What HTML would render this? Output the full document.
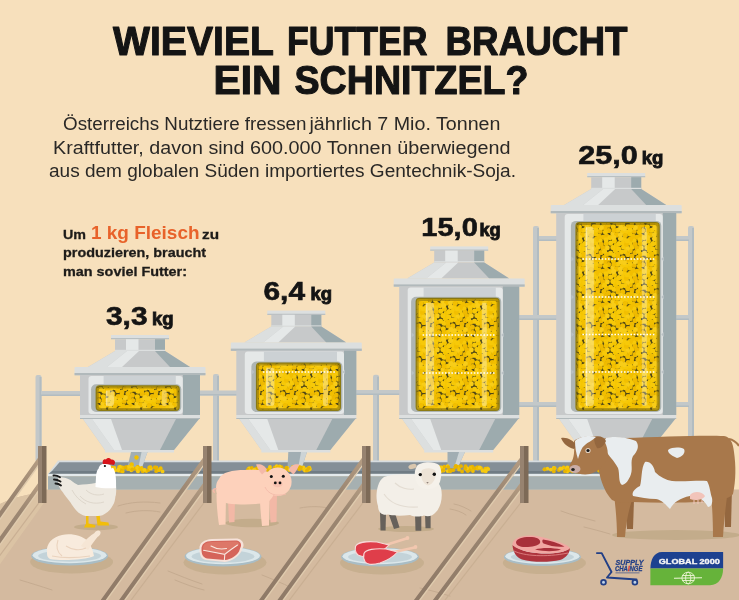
<!DOCTYPE html>
<html><head><meta charset="utf-8"><title>Wieviel Futter braucht ein Schnitzel?</title>
<style>html,body{margin:0;padding:0;background:#F7E0BC}#root{position:relative;width:739px;height:600px;overflow:hidden;background:#F7E0BC}</style>
</head><body><div id="root"><svg width="739" height="600" viewBox="0 0 739 600" style="position:absolute;left:0;top:0"><defs><pattern id="feed" width="34" height="34" patternUnits="userSpaceOnUse"><rect width="34" height="34" fill="#4F4716"/><circle cx="11.0" cy="5.1" r="2.55" fill="#F7C908"/><circle cx="22.1" cy="2.5" r="2.55" fill="#F7C908"/><circle cx="22.1" cy="36.5" r="2.55" fill="#F7C908"/><circle cx="18.2" cy="12.4" r="2.55" fill="#F2BF00"/><circle cx="2.0" cy="17.3" r="2.55" fill="#F7C908"/><circle cx="36.0" cy="17.3" r="2.55" fill="#F7C908"/><circle cx="2.4" cy="3.1" r="2.55" fill="#F5C600"/><circle cx="36.4" cy="3.1" r="2.55" fill="#F5C600"/><circle cx="14.4" cy="28.1" r="2.55" fill="#F7C908"/><circle cx="4.2" cy="7.6" r="2.55" fill="#F5C600"/><circle cx="21.3" cy="-1.8" r="2.55" fill="#F2BF00"/><circle cx="21.3" cy="32.2" r="2.55" fill="#F2BF00"/><circle cx="29.2" cy="9.8" r="2.55" fill="#F8CD18"/><circle cx="10.5" cy="27.7" r="2.55" fill="#F7C908"/><circle cx="6.1" cy="19.8" r="2.55" fill="#EFBA00"/><circle cx="23.1" cy="14.5" r="2.55" fill="#EFBA00"/><circle cx="10.7" cy="19.9" r="2.55" fill="#F2BF00"/><circle cx="15.4" cy="10.2" r="2.55" fill="#F8CD18"/><circle cx="27.0" cy="23.8" r="2.55" fill="#EFBA00"/><circle cx="17.9" cy="29.8" r="2.55" fill="#F5C600"/><circle cx="24.8" cy="9.8" r="2.55" fill="#EFBA00"/><circle cx="1.3" cy="22.7" r="2.55" fill="#F5C600"/><circle cx="35.3" cy="22.7" r="2.55" fill="#F5C600"/><circle cx="26.0" cy="19.5" r="2.55" fill="#F2BF00"/><circle cx="28.6" cy="-1.9" r="2.55" fill="#EFBA00"/><circle cx="28.6" cy="32.1" r="2.55" fill="#EFBA00"/><circle cx="16.1" cy="22.6" r="2.55" fill="#EFBA00"/><circle cx="9.5" cy="14.1" r="2.55" fill="#F7C908"/><circle cx="-1.4" cy="5.1" r="2.55" fill="#F7C908"/><circle cx="32.6" cy="5.1" r="2.55" fill="#F7C908"/><circle cx="20.0" cy="8.9" r="2.55" fill="#F7C908"/><circle cx="30.6" cy="26.5" r="2.55" fill="#EFBA00"/><circle cx="13.3" cy="13.6" r="2.55" fill="#F7C908"/><circle cx="7.1" cy="5.5" r="2.55" fill="#F7C908"/><circle cx="3.4" cy="12.4" r="2.55" fill="#F5C600"/><circle cx="0.9" cy="29.7" r="2.55" fill="#F8CD18"/><circle cx="34.9" cy="29.7" r="2.55" fill="#F8CD18"/><circle cx="15.8" cy="16.5" r="2.55" fill="#F2BF00"/><circle cx="11.6" cy="9.0" r="2.55" fill="#F7C908"/><circle cx="28.2" cy="5.5" r="2.55" fill="#F2BF00"/><circle cx="18.0" cy="5.0" r="2.55" fill="#F7C908"/><circle cx="18.5" cy="0.9" r="2.55" fill="#F2BF00"/><circle cx="18.5" cy="34.9" r="2.55" fill="#F2BF00"/><circle cx="5.7" cy="26.2" r="2.55" fill="#F7C908"/><circle cx="12.1" cy="1.0" r="2.55" fill="#F7C908"/><circle cx="12.1" cy="35.0" r="2.55" fill="#F7C908"/><circle cx="0.9" cy="9.5" r="2.55" fill="#F7C908"/><circle cx="34.9" cy="9.5" r="2.55" fill="#F7C908"/><circle cx="8.8" cy="23.5" r="2.55" fill="#F8CD18"/><circle cx="-1.5" cy="15.2" r="2.55" fill="#F7C908"/><circle cx="32.5" cy="15.2" r="2.55" fill="#F7C908"/><circle cx="-2.1" cy="-0.4" r="2.55" fill="#F7C908"/><circle cx="-2.1" cy="33.6" r="2.55" fill="#F7C908"/><circle cx="31.9" cy="-0.4" r="2.55" fill="#F7C908"/><circle cx="31.9" cy="33.6" r="2.55" fill="#F7C908"/><circle cx="28.6" cy="16.3" r="2.55" fill="#F2BF00"/><circle cx="22.2" cy="27.2" r="2.55" fill="#EFBA00"/><circle cx="4.5" cy="30.9" r="2.55" fill="#F2BF00"/><circle cx="5.9" cy="16.1" r="2.55" fill="#F2BF00"/><circle cx="6.7" cy="10.8" r="2.55" fill="#F7C908"/><circle cx="8.5" cy="0.5" r="2.55" fill="#F8CD18"/><circle cx="8.5" cy="34.5" r="2.55" fill="#F8CD18"/><circle cx="19.9" cy="18.0" r="2.55" fill="#EFBA00"/><circle cx="30.3" cy="21.3" r="2.55" fill="#EFBA00"/><circle cx="27.4" cy="28.1" r="2.55" fill="#F5C600"/><circle cx="23.2" cy="23.6" r="2.55" fill="#F8CD18"/><circle cx="25.2" cy="-0.8" r="2.55" fill="#F2BF00"/><circle cx="25.2" cy="33.2" r="2.55" fill="#F2BF00"/><circle cx="13.3" cy="-2.5" r="2.55" fill="#F2BF00"/><circle cx="13.3" cy="31.5" r="2.55" fill="#F2BF00"/><circle cx="23.1" cy="6.3" r="2.55" fill="#EFBA00"/><circle cx="8.4" cy="30.7" r="2.55" fill="#F8CD18"/><circle cx="18.1" cy="25.7" r="2.55" fill="#F7C908"/><circle cx="26.5" cy="13.2" r="2.55" fill="#F7C908"/><circle cx="14.5" cy="6.3" r="2.55" fill="#F2BF00"/><circle cx="12.4" cy="24.6" r="2.55" fill="#F8CD18"/><circle cx="19.6" cy="21.7" r="2.55" fill="#F2BF00"/><circle cx="1.7" cy="-0.4" r="2.55" fill="#F8CD18"/><circle cx="1.7" cy="33.6" r="2.55" fill="#F8CD18"/><circle cx="35.7" cy="-0.4" r="2.55" fill="#F8CD18"/><circle cx="35.7" cy="33.6" r="2.55" fill="#F8CD18"/><circle cx="28.1" cy="1.8" r="2.55" fill="#F7C908"/><circle cx="28.1" cy="35.8" r="2.55" fill="#F7C908"/><circle cx="2.0" cy="26.2" r="2.55" fill="#F2BF00"/><circle cx="36.0" cy="26.2" r="2.55" fill="#F2BF00"/><circle cx="15.2" cy="2.7" r="2.55" fill="#F7C908"/><circle cx="15.2" cy="36.7" r="2.55" fill="#F7C908"/></pattern></defs><rect width="739" height="600" fill="#F7E0BC"/><rect x="35.5" y="375" width="6" height="87" rx="2" fill="#C3C8C9"/><rect x="39.5" y="377" width="2" height="85" fill="#B2BCC1"/><rect x="41" y="391" width="40" height="5" fill="#C3C8C9"/><rect x="41" y="394.5" width="40" height="1.5" fill="#B2BCC1"/><rect x="213" y="374" width="6" height="88" rx="2" fill="#C3C8C9"/><rect x="217" y="376" width="2" height="86" fill="#B2BCC1"/><rect x="200" y="390.5" width="37" height="5" fill="#C3C8C9"/><rect x="200" y="394.0" width="37" height="1.5" fill="#B2BCC1"/><rect x="373" y="374.7" width="6" height="87.30000000000001" rx="2" fill="#C3C8C9"/><rect x="377" y="376.7" width="2" height="85.30000000000001" fill="#B2BCC1"/><rect x="356" y="390" width="45" height="5" fill="#C3C8C9"/><rect x="356" y="393.5" width="45" height="1.5" fill="#B2BCC1"/><rect x="533" y="226" width="6" height="236" rx="2" fill="#C3C8C9"/><rect x="537" y="228" width="2" height="234" fill="#B2BCC1"/><rect x="539" y="236" width="20" height="5" fill="#C3C8C9"/><rect x="539" y="239.5" width="20" height="1.5" fill="#B2BCC1"/><rect x="519" y="315" width="40" height="5" fill="#C3C8C9"/><rect x="519" y="318.5" width="40" height="1.5" fill="#B2BCC1"/><rect x="519" y="402" width="40" height="5" fill="#C3C8C9"/><rect x="519" y="405.5" width="40" height="1.5" fill="#B2BCC1"/><rect x="688" y="226" width="6" height="236" rx="2" fill="#C3C8C9"/><rect x="692" y="228" width="2" height="234" fill="#B2BCC1"/><rect x="675" y="236" width="14" height="5" fill="#C3C8C9"/><rect x="675" y="239.5" width="14" height="1.5" fill="#B2BCC1"/><rect x="675" y="315" width="14" height="5" fill="#C3C8C9"/><rect x="675" y="318.5" width="14" height="1.5" fill="#B2BCC1"/><rect x="675" y="402" width="14" height="5" fill="#C3C8C9"/><rect x="675" y="405.5" width="14" height="1.5" fill="#B2BCC1"/><rect x="111" y="335" width="58" height="4.2" fill="#DCDFDF"/><rect x="111" y="338.2" width="58" height="1" fill="#B1B9BB"/><rect x="115" y="339.2" width="50" height="11.800000000000011" fill="#C7C9CA"/><rect x="126" y="339.2" width="12.5" height="11.800000000000011" fill="#E5E8E8"/><rect x="155" y="339.2" width="10" height="11.800000000000011" fill="#9DABAE"/><rect x="115" y="349.8" width="50" height="1.2" fill="#DCDFDF"/><polygon points="115,351 165,351 190,367 88,367" fill="#C7C9CA"/><polygon points="115,351 127,351 107,367 88,367" fill="#DCDFDF"/><polygon points="127,351 139,351 122,367 107,367" fill="#E5E8E8"/><polygon points="155,351 165,351 190,367 170,367" fill="#9DABAE"/><rect x="74.5" y="367" width="131" height="8.3" rx="1" fill="#DCDFDF"/><rect x="74.5" y="373" width="131" height="2.3" fill="#B1B9BB"/><rect x="80" y="375" width="120" height="40" fill="#C7C9CA"/><rect x="182.8" y="375" width="17.19999999999999" height="40" fill="#9DABAE"/><rect x="88.5" y="376" width="94.30000000000001" height="38" rx="3" fill="#E5E8E8"/><rect x="103.6" y="376" width="72.20000000000002" height="8.300000000000011" fill="#CCD1D4"/><rect x="91.1" y="384.3" width="90.20000000000002" height="27.69999999999999" rx="5" fill="#AEB5B3"/><rect x="95.6" y="385.3" width="84.20000000000002" height="25.69999999999999" rx="4" fill="#8E7C12"/><rect x="96.8" y="386.5" width="81.80000000000001" height="23.29999999999999" rx="3" fill="url(#feed)"/><rect x="97.6" y="387.3" width="80.20000000000002" height="21.69999999999999" rx="3" fill="none" stroke="#6A5A0E" stroke-width="2.2" opacity="0.45"/><rect x="105.6" y="390.3" width="8.5" height="15.699999999999989" rx="3" fill="#FFFFFF" opacity="0.33"/><rect x="106.1" y="390.3" width="1.2" height="15.699999999999989" fill="#FFFFFF" opacity="0.35"/><rect x="161.8" y="390.3" width="5" height="15.699999999999989" rx="2" fill="#FFFFFF" opacity="0.3"/><rect x="80" y="415" width="120" height="4" fill="#DCDFDF"/><rect x="80" y="418" width="120" height="1" fill="#B1B9BB"/><polygon points="83,419 199,419 174,450 105,450" fill="#C7C9CA"/><polygon points="83,419 92,419 114,450 105,450" fill="#DCDFDF"/><polygon points="92,419 111,419 122,450 114,450" fill="#E5E8E8"/><polygon points="176,419 199,419 174,450 160,450" fill="#9DABAE"/><rect x="105" y="450" width="69" height="2.5" fill="#DCDFDF"/><rect x="267.3" y="310.6" width="58" height="4.2" fill="#DCDFDF"/><rect x="267.3" y="313.8" width="58" height="1" fill="#B1B9BB"/><rect x="271.3" y="314.8" width="50" height="11.800000000000011" fill="#C7C9CA"/><rect x="282.3" y="314.8" width="12.5" height="11.800000000000011" fill="#E5E8E8"/><rect x="311.3" y="314.8" width="10" height="11.800000000000011" fill="#9DABAE"/><rect x="271.3" y="325.40000000000003" width="50" height="1.2" fill="#DCDFDF"/><polygon points="271.3,326.6 321.3,326.6 346.3,342.6 244.3,342.6" fill="#C7C9CA"/><polygon points="271.3,326.6 283.3,326.6 263.3,342.6 244.3,342.6" fill="#DCDFDF"/><polygon points="283.3,326.6 295.3,326.6 278.3,342.6 263.3,342.6" fill="#E5E8E8"/><polygon points="311.3,326.6 321.3,326.6 346.3,342.6 326.3,342.6" fill="#9DABAE"/><rect x="230.8" y="342.6" width="131" height="8.3" rx="1" fill="#DCDFDF"/><rect x="230.8" y="348.6" width="131" height="2.3" fill="#B1B9BB"/><rect x="236.3" y="350.6" width="120" height="64.39999999999998" fill="#C7C9CA"/><rect x="344" y="350.6" width="12.300000000000011" height="64.39999999999998" fill="#9DABAE"/><rect x="244.8" y="351.6" width="99.19999999999999" height="62.39999999999998" rx="3" fill="#E5E8E8"/><rect x="263.9" y="351.6" width="73.1" height="9.899999999999977" fill="#CCD1D4"/><rect x="251.4" y="361.5" width="91.1" height="50.5" rx="5" fill="#AEB5B3"/><rect x="255.9" y="362.5" width="85.1" height="48.5" rx="4" fill="#8E7C12"/><rect x="257.1" y="363.7" width="82.69999999999999" height="46.1" rx="3" fill="url(#feed)"/><rect x="257.9" y="364.5" width="81.1" height="44.5" rx="3" fill="none" stroke="#6A5A0E" stroke-width="2.2" opacity="0.45"/><rect x="265.9" y="367.5" width="8.5" height="38.5" rx="3" fill="#FFFFFF" opacity="0.33"/><rect x="266.4" y="367.5" width="1.2" height="38.5" fill="#FFFFFF" opacity="0.35"/><rect x="323" y="367.5" width="5" height="38.5" rx="2" fill="#FFFFFF" opacity="0.3"/><line x1="262.9" y1="372" x2="336" y2="372" stroke="#FFFFFF" stroke-width="1.4" stroke-dasharray="1.6 1.6"/><polygon points="251.9,369.5 254.4,372 251.9,374.5" fill="#B9C1C5"/><polygon points="345,369.5 342.5,372 345,374.5" fill="#B9C1C5"/><rect x="236.3" y="415" width="120" height="4" fill="#DCDFDF"/><rect x="236.3" y="418" width="120" height="1" fill="#B1B9BB"/><polygon points="239.3,419 355.3,419 330.3,450 261.3,450" fill="#C7C9CA"/><polygon points="239.3,419 248.3,419 270.3,450 261.3,450" fill="#DCDFDF"/><polygon points="248.3,419 267.3,419 278.3,450 270.3,450" fill="#E5E8E8"/><polygon points="332.3,419 355.3,419 330.3,450 316.3,450" fill="#9DABAE"/><rect x="261.3" y="450" width="69" height="2.5" fill="#DCDFDF"/><rect x="430.2" y="246.39999999999998" width="58" height="4.2" fill="#DCDFDF"/><rect x="430.2" y="249.59999999999997" width="58" height="1" fill="#B1B9BB"/><rect x="434.2" y="250.59999999999997" width="50" height="11.800000000000011" fill="#C7C9CA"/><rect x="445.2" y="250.59999999999997" width="12.5" height="11.800000000000011" fill="#E5E8E8"/><rect x="474.2" y="250.59999999999997" width="10" height="11.800000000000011" fill="#9DABAE"/><rect x="434.2" y="261.2" width="50" height="1.2" fill="#DCDFDF"/><polygon points="434.2,262.4 484.2,262.4 509.2,278.4 407.2,278.4" fill="#C7C9CA"/><polygon points="434.2,262.4 446.2,262.4 426.2,278.4 407.2,278.4" fill="#DCDFDF"/><polygon points="446.2,262.4 458.2,262.4 441.2,278.4 426.2,278.4" fill="#E5E8E8"/><polygon points="474.2,262.4 484.2,262.4 509.2,278.4 489.2,278.4" fill="#9DABAE"/><rect x="393.7" y="278.4" width="131" height="8.3" rx="1" fill="#DCDFDF"/><rect x="393.7" y="284.4" width="131" height="2.3" fill="#B1B9BB"/><rect x="399.2" y="286.4" width="120" height="128.60000000000002" fill="#C7C9CA"/><rect x="502.8" y="286.4" width="16.400000000000034" height="128.60000000000002" fill="#9DABAE"/><rect x="407.7" y="287.4" width="95.10000000000002" height="126.60000000000002" rx="3" fill="#E5E8E8"/><rect x="423.6" y="287.4" width="72.19999999999999" height="9.400000000000034" fill="#CCD1D4"/><rect x="411.1" y="296.8" width="90.19999999999999" height="115.19999999999999" rx="5" fill="#AEB5B3"/><rect x="415.6" y="297.8" width="84.19999999999999" height="113.19999999999999" rx="4" fill="#8E7C12"/><rect x="416.8" y="299.0" width="81.79999999999998" height="110.79999999999998" rx="3" fill="url(#feed)"/><rect x="417.6" y="299.8" width="80.19999999999999" height="109.19999999999999" rx="3" fill="none" stroke="#6A5A0E" stroke-width="2.2" opacity="0.45"/><rect x="425.6" y="302.8" width="8.5" height="103.19999999999999" rx="3" fill="#FFFFFF" opacity="0.33"/><rect x="426.1" y="302.8" width="1.2" height="103.19999999999999" fill="#FFFFFF" opacity="0.35"/><rect x="481.8" y="302.8" width="5" height="103.19999999999999" rx="2" fill="#FFFFFF" opacity="0.3"/><line x1="422.6" y1="335" x2="494.8" y2="335" stroke="#FFFFFF" stroke-width="1.4" stroke-dasharray="1.6 1.6"/><polygon points="411.6,332.5 414.1,335 411.6,337.5" fill="#B9C1C5"/><polygon points="503.8,332.5 501.3,335 503.8,337.5" fill="#B9C1C5"/><line x1="422.6" y1="373" x2="494.8" y2="373" stroke="#FFFFFF" stroke-width="1.4" stroke-dasharray="1.6 1.6"/><polygon points="411.6,370.5 414.1,373 411.6,375.5" fill="#B9C1C5"/><polygon points="503.8,370.5 501.3,373 503.8,375.5" fill="#B9C1C5"/><rect x="399.2" y="415" width="120" height="4" fill="#DCDFDF"/><rect x="399.2" y="418" width="120" height="1" fill="#B1B9BB"/><polygon points="402.2,419 518.2,419 493.2,450 424.2,450" fill="#C7C9CA"/><polygon points="402.2,419 411.2,419 433.2,450 424.2,450" fill="#DCDFDF"/><polygon points="411.2,419 430.2,419 441.2,450 433.2,450" fill="#E5E8E8"/><polygon points="495.2,419 518.2,419 493.2,450 479.2,450" fill="#9DABAE"/><rect x="424.2" y="450" width="69" height="2.5" fill="#DCDFDF"/><rect x="587.2" y="173" width="58" height="4.2" fill="#DCDFDF"/><rect x="587.2" y="176.2" width="58" height="1" fill="#B1B9BB"/><rect x="591.2" y="177.2" width="50" height="11.800000000000011" fill="#C7C9CA"/><rect x="602.2" y="177.2" width="12.5" height="11.800000000000011" fill="#E5E8E8"/><rect x="631.2" y="177.2" width="10" height="11.800000000000011" fill="#9DABAE"/><rect x="591.2" y="187.8" width="50" height="1.2" fill="#DCDFDF"/><polygon points="591.2,189 641.2,189 666.2,205 564.2,205" fill="#C7C9CA"/><polygon points="591.2,189 603.2,189 583.2,205 564.2,205" fill="#DCDFDF"/><polygon points="603.2,189 615.2,189 598.2,205 583.2,205" fill="#E5E8E8"/><polygon points="631.2,189 641.2,189 666.2,205 646.2,205" fill="#9DABAE"/><rect x="550.7" y="205" width="131" height="8.3" rx="1" fill="#DCDFDF"/><rect x="550.7" y="211" width="131" height="2.3" fill="#B1B9BB"/><rect x="556.2" y="213" width="120" height="202" fill="#C7C9CA"/><rect x="662.8" y="213" width="13.400000000000091" height="202" fill="#9DABAE"/><rect x="564.7" y="214" width="98.09999999999991" height="200" rx="3" fill="#E5E8E8"/><rect x="583.4" y="214" width="72.39999999999998" height="6.900000000000006" fill="#CCD1D4"/><rect x="570.9" y="220.9" width="90.39999999999998" height="191.1" rx="5" fill="#AEB5B3"/><rect x="575.4" y="221.9" width="84.39999999999998" height="189.1" rx="4" fill="#8E7C12"/><rect x="576.6" y="223.1" width="81.99999999999997" height="186.7" rx="3" fill="url(#feed)"/><rect x="577.4" y="223.9" width="80.39999999999998" height="185.1" rx="3" fill="none" stroke="#6A5A0E" stroke-width="2.2" opacity="0.45"/><rect x="585.4" y="226.9" width="8.5" height="179.1" rx="3" fill="#FFFFFF" opacity="0.33"/><rect x="585.9" y="226.9" width="1.2" height="179.1" fill="#FFFFFF" opacity="0.35"/><rect x="641.8" y="226.9" width="5" height="179.1" rx="2" fill="#FFFFFF" opacity="0.3"/><line x1="582.4" y1="259" x2="654.8" y2="259" stroke="#FFFFFF" stroke-width="1.4" stroke-dasharray="1.6 1.6"/><polygon points="571.4,256.5 573.9,259 571.4,261.5" fill="#B9C1C5"/><polygon points="663.8,256.5 661.3,259 663.8,261.5" fill="#B9C1C5"/><line x1="582.4" y1="297" x2="654.8" y2="297" stroke="#FFFFFF" stroke-width="1.4" stroke-dasharray="1.6 1.6"/><polygon points="571.4,294.5 573.9,297 571.4,299.5" fill="#B9C1C5"/><polygon points="663.8,294.5 661.3,297 663.8,299.5" fill="#B9C1C5"/><line x1="582.4" y1="334.5" x2="654.8" y2="334.5" stroke="#FFFFFF" stroke-width="1.4" stroke-dasharray="1.6 1.6"/><polygon points="571.4,332.0 573.9,334.5 571.4,337.0" fill="#B9C1C5"/><polygon points="663.8,332.0 661.3,334.5 663.8,337.0" fill="#B9C1C5"/><line x1="582.4" y1="372" x2="654.8" y2="372" stroke="#FFFFFF" stroke-width="1.4" stroke-dasharray="1.6 1.6"/><polygon points="571.4,369.5 573.9,372 571.4,374.5" fill="#B9C1C5"/><polygon points="663.8,369.5 661.3,372 663.8,374.5" fill="#B9C1C5"/><rect x="556.2" y="415" width="120" height="4" fill="#DCDFDF"/><rect x="556.2" y="418" width="120" height="1" fill="#B1B9BB"/><polygon points="559.2,419 675.2,419 650.2,450 581.2,450" fill="#C7C9CA"/><polygon points="559.2,419 568.2,419 590.2,450 581.2,450" fill="#DCDFDF"/><polygon points="568.2,419 587.2,419 598.2,450 590.2,450" fill="#E5E8E8"/><polygon points="652.2,419 675.2,419 650.2,450 636.2,450" fill="#9DABAE"/><rect x="581.2" y="450" width="69" height="2.5" fill="#DCDFDF"/><path d="M0,504 C10,499 22,495.5 38,493 L46,489.5 L739,489.5 L739,600 L0,600 Z" fill="#D4BA9F"/><path d="M0,504 C10,499 22,495.5 38,493 L46,493 L46,500 L-40,620 L0,620 Z" fill="#DBC3A4"/><path d="M118,506 C130,502 145,501 160,503" stroke="#C5AB90" stroke-width="1" fill="none" stroke-linecap="round"/><path d="M126,513 C138,510 150,510 160,512" stroke="#C5AB90" stroke-width="1" fill="none" stroke-linecap="round"/><path d="M168,571 C178,575 190,580 202,584" stroke="#C5AB90" stroke-width="1" fill="none" stroke-linecap="round"/><path d="M175,580 C185,584 195,588 204,590" stroke="#C5AB90" stroke-width="1" fill="none" stroke-linecap="round"/><path d="M454,504 C460,505 466,508 471,511" stroke="#C5AB90" stroke-width="1" fill="none" stroke-linecap="round"/><path d="M450,509 C456,510 462,512 466,515" stroke="#C5AB90" stroke-width="1" fill="none" stroke-linecap="round"/><path d="M561,511 C572,515 584,518 595,521" stroke="#C5AB90" stroke-width="1" fill="none" stroke-linecap="round"/><path d="M584,527 C592,529 600,531 610,534" stroke="#C5AB90" stroke-width="1" fill="none" stroke-linecap="round"/><path d="M300,508 C310,506 322,506 332,509" stroke="#C5AB90" stroke-width="1" fill="none" stroke-linecap="round"/><path d="M262,575 C272,579 282,583 292,588" stroke="#C5AB90" stroke-width="1" fill="none" stroke-linecap="round"/><path d="M420,588 C430,590 440,593 450,596" stroke="#C5AB90" stroke-width="1" fill="none" stroke-linecap="round"/><path d="M20,580 C30,583 40,586 52,590" stroke="#C5AB90" stroke-width="1" fill="none" stroke-linecap="round"/><polygon points="58,460.5 705,460.5 705,474 48,474" fill="#D6DCDF"/><polygon points="59.5,462.3 705,462.3 705,471 52,471" fill="#848F97"/><polygon points="52,471 705,471 705,474 48.5,474" fill="#707C84"/><rect x="48" y="473.8" width="657" height="2.4" fill="#E4EAEC"/><rect x="48" y="476.2" width="657" height="13.5" fill="#A6B0B1"/><polygon points="131,452 147.5,452 141.8,468 127.2,468" fill="#A1AEB3"/><polygon points="141.5,452 147.5,452 141.8,468 138.3,468" fill="#CDD4D6"/><circle cx="136.5" cy="457.5" r="2.2" fill="#F2C000"/><circle cx="131.7" cy="464.4" r="2.2" fill="#F2C000"/><polygon points="288.3,452 307.0,452 301.7,468 287.5,468" fill="#A1AEB3"/><polygon points="301.0,452 307.0,452 301.7,468 298.2,468" fill="#CDD4D6"/><polygon points="447.5,452 465.0,452 457.59999999999997,468 447.5,468" fill="#A1AEB3"/><polygon points="459.0,452 465.0,452 457.59999999999997,468 454.09999999999997,468" fill="#CDD4D6"/><polygon points="604.5,452 622.0,452 614.6,468 604.5,468" fill="#A1AEB3"/><polygon points="616.0,452 622.0,452 614.6,468 611.1,468" fill="#CDD4D6"/><circle cx="138.1" cy="468.9" r="1.9" fill="#F6CA10"/><circle cx="126.2" cy="467.2" r="1.9" fill="#E8B400"/><circle cx="119.0" cy="467.1" r="1.9" fill="#E8B400"/><circle cx="138.0" cy="467.1" r="1.9" fill="#F2C000"/><circle cx="144.7" cy="470.0" r="1.9" fill="#E8B400"/><circle cx="157.1" cy="469.9" r="1.9" fill="#F2C000"/><circle cx="137.7" cy="466.8" r="1.9" fill="#E8B400"/><circle cx="113.5" cy="469.8" r="1.9" fill="#E8B400"/><circle cx="118.7" cy="470.7" r="1.9" fill="#F6CA10"/><circle cx="142.4" cy="470.8" r="1.9" fill="#F6CA10"/><circle cx="127.6" cy="467.2" r="1.9" fill="#E8B400"/><circle cx="143.0" cy="471.3" r="1.9" fill="#E8B400"/><circle cx="149.9" cy="468.2" r="1.9" fill="#F2C000"/><circle cx="121.0" cy="471.0" r="1.9" fill="#E8B400"/><circle cx="160.7" cy="468.2" r="1.9" fill="#F2C000"/><circle cx="146.4" cy="471.1" r="1.9" fill="#F2C000"/><circle cx="135.0" cy="468.5" r="1.9" fill="#E8B400"/><circle cx="128.2" cy="469.2" r="1.9" fill="#F2C000"/><circle cx="137.3" cy="469.7" r="1.9" fill="#E8B400"/><circle cx="122.7" cy="471.4" r="1.9" fill="#F2C000"/><circle cx="115.2" cy="470.4" r="1.9" fill="#F6CA10"/><circle cx="156.5" cy="467.6" r="1.9" fill="#F2C000"/><circle cx="148.2" cy="470.2" r="1.9" fill="#E8B400"/><circle cx="137.5" cy="470.4" r="1.9" fill="#E8B400"/><circle cx="138.2" cy="469.0" r="1.9" fill="#F6CA10"/><circle cx="137.1" cy="467.7" r="1.9" fill="#F6CA10"/><circle cx="119.6" cy="467.4" r="1.9" fill="#F2C000"/><circle cx="141.5" cy="467.9" r="1.9" fill="#F2C000"/><circle cx="128.8" cy="466.8" r="1.9" fill="#F6CA10"/><circle cx="122.2" cy="468.8" r="1.9" fill="#E8B400"/><circle cx="122.4" cy="467.4" r="1.9" fill="#F2C000"/><circle cx="131.8" cy="467.3" r="1.9" fill="#F6CA10"/><circle cx="114.3" cy="468.1" r="1.9" fill="#E8B400"/><circle cx="144.3" cy="469.9" r="1.9" fill="#F6CA10"/><circle cx="131.3" cy="470.3" r="1.9" fill="#F6CA10"/><circle cx="131.9" cy="469.2" r="1.9" fill="#F2C000"/><circle cx="132.1" cy="468.1" r="1.9" fill="#F6CA10"/><circle cx="149.3" cy="467.4" r="1.9" fill="#F2C000"/><circle cx="156.2" cy="471.2" r="1.9" fill="#E8B400"/><circle cx="154.7" cy="467.4" r="1.9" fill="#E8B400"/><circle cx="138.0" cy="471.4" r="1.9" fill="#F6CA10"/><circle cx="120.1" cy="466.6" r="1.9" fill="#F6CA10"/><circle cx="114.3" cy="467.9" r="1.9" fill="#F6CA10"/><circle cx="155.6" cy="467.4" r="1.9" fill="#E8B400"/><circle cx="140.1" cy="468.8" r="1.9" fill="#F2C000"/><circle cx="124.3" cy="467.8" r="1.9" fill="#F2C000"/><circle cx="125.4" cy="467.4" r="1.9" fill="#E8B400"/><circle cx="118.4" cy="469.5" r="1.9" fill="#F6CA10"/><circle cx="150.9" cy="468.7" r="1.9" fill="#F6CA10"/><circle cx="113.0" cy="470.2" r="1.9" fill="#F6CA10"/><circle cx="150.4" cy="467.1" r="1.9" fill="#F2C000"/><circle cx="159.0" cy="470.2" r="1.9" fill="#F2C000"/><circle cx="156.0" cy="468.3" r="1.9" fill="#E8B400"/><circle cx="132.3" cy="469.5" r="1.9" fill="#E8B400"/><circle cx="162.6" cy="471.4" r="1.9" fill="#F6CA10"/><circle cx="299.4" cy="469.3" r="1.9" fill="#E8B400"/><circle cx="303.1" cy="468.8" r="1.9" fill="#F2C000"/><circle cx="281.7" cy="467.2" r="1.9" fill="#E8B400"/><circle cx="289.3" cy="470.0" r="1.9" fill="#F6CA10"/><circle cx="287.3" cy="467.9" r="1.9" fill="#F6CA10"/><circle cx="257.1" cy="470.9" r="1.9" fill="#F2C000"/><circle cx="303.4" cy="467.3" r="1.9" fill="#F6CA10"/><circle cx="249.3" cy="468.3" r="1.9" fill="#E8B400"/><circle cx="309.3" cy="467.6" r="1.9" fill="#F6CA10"/><circle cx="274.6" cy="467.4" r="1.9" fill="#E8B400"/><circle cx="253.2" cy="471.3" r="1.9" fill="#F6CA10"/><circle cx="269.6" cy="468.2" r="1.9" fill="#F2C000"/><circle cx="270.4" cy="471.2" r="1.9" fill="#F6CA10"/><circle cx="261.7" cy="469.3" r="1.9" fill="#F2C000"/><circle cx="249.2" cy="468.3" r="1.9" fill="#F6CA10"/><circle cx="293.3" cy="470.6" r="1.9" fill="#F2C000"/><circle cx="284.9" cy="471.0" r="1.9" fill="#F6CA10"/><circle cx="257.6" cy="468.3" r="1.9" fill="#F2C000"/><circle cx="276.7" cy="466.2" r="1.9" fill="#F6CA10"/><circle cx="309.9" cy="469.1" r="1.9" fill="#F6CA10"/><circle cx="263.0" cy="467.9" r="1.9" fill="#F2C000"/><circle cx="254.0" cy="470.4" r="1.9" fill="#F2C000"/><circle cx="252.5" cy="471.3" r="1.9" fill="#E8B400"/><circle cx="248.8" cy="469.2" r="1.9" fill="#F6CA10"/><circle cx="256.7" cy="468.5" r="1.9" fill="#E8B400"/><circle cx="306.7" cy="469.1" r="1.9" fill="#F6CA10"/><circle cx="274.0" cy="470.4" r="1.9" fill="#F2C000"/><circle cx="299.8" cy="467.3" r="1.9" fill="#F6CA10"/><circle cx="286.0" cy="469.1" r="1.9" fill="#E8B400"/><circle cx="281.4" cy="469.5" r="1.9" fill="#F2C000"/><circle cx="277.1" cy="468.2" r="1.9" fill="#E8B400"/><circle cx="279.7" cy="466.3" r="1.9" fill="#F6CA10"/><circle cx="256.2" cy="469.0" r="1.9" fill="#E8B400"/><circle cx="267.0" cy="470.0" r="1.9" fill="#E8B400"/><circle cx="293.0" cy="466.8" r="1.9" fill="#F2C000"/><circle cx="304.9" cy="470.6" r="1.9" fill="#F6CA10"/><circle cx="286.4" cy="467.6" r="1.9" fill="#E8B400"/><circle cx="260.2" cy="467.3" r="1.9" fill="#E8B400"/><circle cx="283.9" cy="470.7" r="1.9" fill="#F6CA10"/><circle cx="278.4" cy="466.9" r="1.9" fill="#F2C000"/><circle cx="251.8" cy="467.9" r="1.9" fill="#E8B400"/><circle cx="308.8" cy="469.8" r="1.9" fill="#F6CA10"/><circle cx="299.2" cy="467.1" r="1.9" fill="#E8B400"/><circle cx="292.7" cy="470.1" r="1.9" fill="#E8B400"/><circle cx="254.7" cy="469.7" r="1.9" fill="#F2C000"/><circle cx="258.9" cy="467.6" r="1.9" fill="#F6CA10"/><circle cx="261.8" cy="469.2" r="1.9" fill="#E8B400"/><circle cx="300.9" cy="467.5" r="1.9" fill="#E8B400"/><circle cx="308.6" cy="468.2" r="1.9" fill="#E8B400"/><circle cx="270.0" cy="466.9" r="1.9" fill="#F6CA10"/><circle cx="296.5" cy="467.3" r="1.9" fill="#E8B400"/><circle cx="247.7" cy="470.0" r="1.9" fill="#E8B400"/><circle cx="306.9" cy="470.6" r="1.9" fill="#E8B400"/><circle cx="254.3" cy="469.6" r="1.9" fill="#F6CA10"/><circle cx="294.3" cy="467.8" r="1.9" fill="#F2C000"/><circle cx="447.7" cy="471.1" r="1.9" fill="#F6CA10"/><circle cx="465.6" cy="466.2" r="1.9" fill="#E8B400"/><circle cx="467.1" cy="469.9" r="1.9" fill="#F6CA10"/><circle cx="470.4" cy="467.1" r="1.9" fill="#E8B400"/><circle cx="487.4" cy="468.4" r="1.9" fill="#F2C000"/><circle cx="462.1" cy="471.4" r="1.9" fill="#E8B400"/><circle cx="441.6" cy="470.5" r="1.9" fill="#E8B400"/><circle cx="485.2" cy="469.9" r="1.9" fill="#F2C000"/><circle cx="472.3" cy="466.7" r="1.9" fill="#E8B400"/><circle cx="485.4" cy="468.6" r="1.9" fill="#F2C000"/><circle cx="443.7" cy="470.6" r="1.9" fill="#F6CA10"/><circle cx="439.2" cy="467.1" r="1.9" fill="#F6CA10"/><circle cx="481.0" cy="468.2" r="1.9" fill="#F2C000"/><circle cx="437.5" cy="467.6" r="1.9" fill="#E8B400"/><circle cx="450.2" cy="471.3" r="1.9" fill="#E8B400"/><circle cx="485.7" cy="471.4" r="1.9" fill="#F6CA10"/><circle cx="477.8" cy="468.6" r="1.9" fill="#F2C000"/><circle cx="472.6" cy="468.5" r="1.9" fill="#E8B400"/><circle cx="458.1" cy="466.7" r="1.9" fill="#F2C000"/><circle cx="468.0" cy="469.3" r="1.9" fill="#F6CA10"/><circle cx="484.5" cy="470.8" r="1.9" fill="#F2C000"/><circle cx="447.6" cy="466.2" r="1.9" fill="#F6CA10"/><circle cx="441.8" cy="467.6" r="1.9" fill="#F2C000"/><circle cx="470.5" cy="468.0" r="1.9" fill="#F2C000"/><circle cx="436.1" cy="468.9" r="1.9" fill="#E8B400"/><circle cx="488.3" cy="469.1" r="1.9" fill="#F6CA10"/><circle cx="441.0" cy="471.2" r="1.9" fill="#F2C000"/><circle cx="482.5" cy="470.8" r="1.9" fill="#F6CA10"/><circle cx="477.6" cy="467.2" r="1.9" fill="#E8B400"/><circle cx="469.3" cy="470.1" r="1.9" fill="#E8B400"/><circle cx="455.4" cy="467.0" r="1.9" fill="#E8B400"/><circle cx="479.0" cy="467.9" r="1.9" fill="#E8B400"/><circle cx="443.5" cy="467.6" r="1.9" fill="#F6CA10"/><circle cx="455.8" cy="466.2" r="1.9" fill="#F2C000"/><circle cx="451.4" cy="470.3" r="1.9" fill="#E8B400"/><circle cx="453.4" cy="470.0" r="1.9" fill="#E8B400"/><circle cx="440.3" cy="468.7" r="1.9" fill="#F2C000"/><circle cx="456.2" cy="466.4" r="1.9" fill="#E8B400"/><circle cx="436.3" cy="468.5" r="1.9" fill="#F2C000"/><circle cx="467.8" cy="471.0" r="1.9" fill="#E8B400"/><circle cx="450.1" cy="470.2" r="1.9" fill="#E8B400"/><circle cx="448.2" cy="467.1" r="1.9" fill="#E8B400"/><circle cx="476.0" cy="468.2" r="1.9" fill="#F2C000"/><circle cx="474.3" cy="468.3" r="1.9" fill="#E8B400"/><circle cx="461.0" cy="466.2" r="1.9" fill="#E8B400"/><circle cx="459.0" cy="469.5" r="1.9" fill="#F2C000"/><circle cx="444.3" cy="466.7" r="1.9" fill="#E8B400"/><circle cx="467.0" cy="468.4" r="1.9" fill="#F6CA10"/><circle cx="465.2" cy="468.4" r="1.9" fill="#E8B400"/><circle cx="485.8" cy="470.4" r="1.9" fill="#F6CA10"/><circle cx="479.7" cy="467.5" r="1.9" fill="#F6CA10"/><circle cx="455.8" cy="466.2" r="1.9" fill="#E8B400"/><circle cx="472.9" cy="471.1" r="1.9" fill="#F2C000"/><circle cx="441.2" cy="467.5" r="1.9" fill="#F6CA10"/><circle cx="443.1" cy="470.2" r="1.9" fill="#E8B400"/><circle cx="554.7" cy="468.1" r="1.9" fill="#F2C000"/><circle cx="598.4" cy="468.9" r="1.9" fill="#F6CA10"/><circle cx="598.9" cy="470.5" r="1.9" fill="#E8B400"/><circle cx="567.3" cy="471.5" r="1.9" fill="#F6CA10"/><circle cx="553.7" cy="467.9" r="1.9" fill="#F6CA10"/><circle cx="558.9" cy="470.0" r="1.9" fill="#E8B400"/><circle cx="589.4" cy="469.3" r="1.9" fill="#E8B400"/><circle cx="581.6" cy="466.8" r="1.9" fill="#F6CA10"/><circle cx="612.0" cy="471.2" r="1.9" fill="#E8B400"/><circle cx="600.7" cy="467.6" r="1.9" fill="#F2C000"/><circle cx="570.7" cy="468.0" r="1.9" fill="#F2C000"/><circle cx="590.2" cy="467.5" r="1.9" fill="#F6CA10"/><circle cx="553.8" cy="471.4" r="1.9" fill="#E8B400"/><circle cx="608.0" cy="471.4" r="1.9" fill="#F6CA10"/><circle cx="593.8" cy="468.2" r="1.9" fill="#F2C000"/><circle cx="566.5" cy="468.4" r="1.9" fill="#F6CA10"/><circle cx="592.1" cy="469.7" r="1.9" fill="#E8B400"/><circle cx="573.6" cy="468.4" r="1.9" fill="#F6CA10"/><circle cx="572.5" cy="471.3" r="1.9" fill="#E8B400"/><circle cx="563.7" cy="467.5" r="1.9" fill="#F2C000"/><circle cx="567.4" cy="467.5" r="1.9" fill="#F6CA10"/><circle cx="580.6" cy="467.6" r="1.9" fill="#F6CA10"/><circle cx="554.4" cy="468.6" r="1.9" fill="#F2C000"/><circle cx="577.1" cy="471.4" r="1.9" fill="#F2C000"/><circle cx="577.3" cy="470.7" r="1.9" fill="#F6CA10"/><circle cx="544.7" cy="469.3" r="1.9" fill="#F6CA10"/><circle cx="567.6" cy="469.8" r="1.9" fill="#F2C000"/><circle cx="576.2" cy="466.7" r="1.9" fill="#F6CA10"/><circle cx="565.0" cy="471.3" r="1.9" fill="#E8B400"/><circle cx="610.8" cy="471.5" r="1.9" fill="#F6CA10"/><circle cx="577.3" cy="468.6" r="1.9" fill="#F6CA10"/><circle cx="604.9" cy="466.8" r="1.9" fill="#F2C000"/><circle cx="561.6" cy="468.6" r="1.9" fill="#F6CA10"/><circle cx="547.4" cy="468.7" r="1.9" fill="#F6CA10"/><circle cx="601.7" cy="471.1" r="1.9" fill="#F6CA10"/><circle cx="604.8" cy="471.5" r="1.9" fill="#F6CA10"/><circle cx="590.3" cy="467.8" r="1.9" fill="#F6CA10"/><circle cx="584.0" cy="471.1" r="1.9" fill="#F6CA10"/><circle cx="591.3" cy="466.0" r="1.9" fill="#F6CA10"/><circle cx="575.5" cy="471.4" r="1.9" fill="#F6CA10"/><circle cx="602.2" cy="470.5" r="1.9" fill="#F2C000"/><circle cx="577.1" cy="467.0" r="1.9" fill="#F6CA10"/><circle cx="605.9" cy="467.6" r="1.9" fill="#F2C000"/><circle cx="572.5" cy="470.1" r="1.9" fill="#F2C000"/><circle cx="570.9" cy="468.9" r="1.9" fill="#F6CA10"/><circle cx="571.7" cy="468.9" r="1.9" fill="#F2C000"/><circle cx="588.5" cy="469.3" r="1.9" fill="#E8B400"/><circle cx="608.4" cy="469.9" r="1.9" fill="#E8B400"/><circle cx="579.8" cy="467.9" r="1.9" fill="#E8B400"/><circle cx="611.5" cy="469.2" r="1.9" fill="#F6CA10"/><circle cx="605.4" cy="468.9" r="1.9" fill="#F6CA10"/><circle cx="544.5" cy="469.3" r="1.9" fill="#E8B400"/><circle cx="596.8" cy="466.3" r="1.9" fill="#F6CA10"/><circle cx="577.6" cy="467.3" r="1.9" fill="#F6CA10"/><circle cx="560.2" cy="468.5" r="1.9" fill="#F6CA10"/><circle cx="569.9" cy="470.3" r="1.9" fill="#F2C000"/><circle cx="586.5" cy="471.1" r="1.9" fill="#F2C000"/><circle cx="571.0" cy="467.2" r="1.9" fill="#E8B400"/><circle cx="550.8" cy="469.6" r="1.9" fill="#F6CA10"/><circle cx="585.6" cy="467.3" r="1.9" fill="#F2C000"/><linearGradient id="rg1" gradientUnits="userSpaceOnUse" x1="40" y1="458.5" x2="-75.4" y2="620"><stop offset="0" stop-color="#B49C82"/><stop offset="0.2" stop-color="#9C8772"/><stop offset="1" stop-color="#8C7765"/></linearGradient><line x1="42.3" y1="460.0" x2="-73.1" y2="621.5" stroke="#DFCBAE" stroke-width="1.4"/><line x1="40" y1="458.5" x2="-75.4" y2="620" stroke="url(#rg1)" stroke-width="4.0" stroke-linecap="round"/><linearGradient id="rg2" gradientUnits="userSpaceOnUse" x1="40" y1="484" x2="-57.1" y2="620"><stop offset="0" stop-color="#B49C82"/><stop offset="0.2" stop-color="#9C8772"/><stop offset="1" stop-color="#8C7765"/></linearGradient><line x1="42.3" y1="485.5" x2="-54.8" y2="621.5" stroke="#DFCBAE" stroke-width="1.4"/><line x1="44" y1="496" x2="-48.1" y2="620" stroke="#C9AF93" stroke-width="1.2"/><line x1="40" y1="484" x2="-57.1" y2="620" stroke="url(#rg2)" stroke-width="4.0" stroke-linecap="round"/><linearGradient id="rg3" gradientUnits="userSpaceOnUse" x1="205" y1="458.5" x2="88.8" y2="620"><stop offset="0" stop-color="#B49C82"/><stop offset="0.2" stop-color="#9C8772"/><stop offset="1" stop-color="#8C7765"/></linearGradient><line x1="207.3" y1="460.0" x2="91.1" y2="621.5" stroke="#DFCBAE" stroke-width="1.4"/><line x1="205" y1="458.5" x2="88.8" y2="620" stroke="url(#rg3)" stroke-width="4.0" stroke-linecap="round"/><linearGradient id="rg4" gradientUnits="userSpaceOnUse" x1="205" y1="484" x2="107.2" y2="620"><stop offset="0" stop-color="#B49C82"/><stop offset="0.2" stop-color="#9C8772"/><stop offset="1" stop-color="#8C7765"/></linearGradient><line x1="207.3" y1="485.5" x2="109.5" y2="621.5" stroke="#DFCBAE" stroke-width="1.4"/><line x1="209" y1="496" x2="116.2" y2="620" stroke="#C9AF93" stroke-width="1.2"/><line x1="205" y1="484" x2="107.2" y2="620" stroke="url(#rg4)" stroke-width="4.0" stroke-linecap="round"/><linearGradient id="rg5" gradientUnits="userSpaceOnUse" x1="364" y1="458.5" x2="247.0" y2="620"><stop offset="0" stop-color="#B49C82"/><stop offset="0.2" stop-color="#9C8772"/><stop offset="1" stop-color="#8C7765"/></linearGradient><line x1="366.3" y1="460.0" x2="249.3" y2="621.5" stroke="#DFCBAE" stroke-width="1.4"/><line x1="364" y1="458.5" x2="247.0" y2="620" stroke="url(#rg5)" stroke-width="4.0" stroke-linecap="round"/><linearGradient id="rg6" gradientUnits="userSpaceOnUse" x1="364" y1="484" x2="265.4" y2="620"><stop offset="0" stop-color="#B49C82"/><stop offset="0.2" stop-color="#9C8772"/><stop offset="1" stop-color="#8C7765"/></linearGradient><line x1="366.3" y1="485.5" x2="267.7" y2="621.5" stroke="#DFCBAE" stroke-width="1.4"/><line x1="368" y1="496" x2="274.4" y2="620" stroke="#C9AF93" stroke-width="1.2"/><line x1="364" y1="484" x2="265.4" y2="620" stroke="url(#rg6)" stroke-width="4.0" stroke-linecap="round"/><linearGradient id="rg7" gradientUnits="userSpaceOnUse" x1="522" y1="458.5" x2="401.5" y2="620"><stop offset="0" stop-color="#B49C82"/><stop offset="0.2" stop-color="#9C8772"/><stop offset="1" stop-color="#8C7765"/></linearGradient><line x1="524.3" y1="460.0" x2="403.8" y2="621.5" stroke="#DFCBAE" stroke-width="1.4"/><line x1="522" y1="458.5" x2="401.5" y2="620" stroke="url(#rg7)" stroke-width="4.0" stroke-linecap="round"/><linearGradient id="rg8" gradientUnits="userSpaceOnUse" x1="522" y1="484" x2="420.5" y2="620"><stop offset="0" stop-color="#B49C82"/><stop offset="0.2" stop-color="#9C8772"/><stop offset="1" stop-color="#8C7765"/></linearGradient><line x1="524.3" y1="485.5" x2="422.8" y2="621.5" stroke="#DFCBAE" stroke-width="1.4"/><line x1="526" y1="496" x2="429.5" y2="620" stroke="#C9AF93" stroke-width="1.2"/><line x1="522" y1="484" x2="420.5" y2="620" stroke="url(#rg8)" stroke-width="4.0" stroke-linecap="round"/><rect x="38" y="446" width="8.5" height="57" fill="#7D6A57"/><rect x="38" y="446" width="4" height="57" fill="#978370"/><rect x="203" y="446" width="8.5" height="57" fill="#7D6A57"/><rect x="203" y="446" width="4" height="57" fill="#978370"/><rect x="362" y="446" width="8.5" height="57" fill="#7D6A57"/><rect x="362" y="446" width="4" height="57" fill="#978370"/><rect x="520" y="446" width="8.5" height="57" fill="#7D6A57"/><rect x="520" y="446" width="4" height="57" fill="#978370"/><ellipse cx="96" cy="527" rx="22" ry="3.2" fill="#C3AC8B"/><path d="M86,514 L88.5,514 L88.5,523.5 L95.5,525 L95,527.5 L84,527.5 L86,523.5 Z" fill="#F2BE0A"/><path d="M96,514 L99.5,514 L100.5,521.5 L108.5,522.5 L109,525.5 L97.5,525.5 Z" fill="#F2BE0A"/><path d="M58,477 C63,477 67,478 70.5,480 C73,482 76,484 78,485 C84,484.5 90,484 95.5,483 L116,485 C116.5,490 116,496 115.5,496 C115,500 114.5,503 113,505 C111,509 108,512 106.8,512.5 C104,515 101,516 98,516 L85.5,516 C82,515 79,513.5 76.8,511 C74,508 72,505 70.5,502.5 C67,498 64,494.5 63,492.5 C60,489 58.5,486 58,483.8 Z" fill="#EEE9E0"/><path d="M80,496 C85,502 94,505 104,502 M86,490 C91,495 98,496 104,494 M72,490 C75,496 80,501 86,504" stroke="#DED7CC" stroke-width="1" fill="none"/><path d="M95.5,487 C95.5,483 96,479 96,476 C96.5,472 97.5,469 98.5,468.7 C99,466.5 100,465.5 100.5,465 C102,464 103,463.7 104,463.7 C106,463.5 108,463.8 109,464.4 C111,465.2 112.5,466.5 113,467.5 C114.5,470 115.3,472.5 115.5,475 C116,478 116.2,482 116,488 C110,488.5 101,488.5 95.5,487 Z" fill="#FFFFFF"/><path d="M103,464 C102,461 103.5,458.5 106,459.5 C107,457.5 110,457.5 111,459.5 C113,459 115.5,460.5 115,463 L114,465 C110,464 106,464 103,464 Z" fill="#D8141B"/><path d="M110.5,465.6 L115,466.5 L111.5,468.5 Z" fill="#F2BE0A"/><circle cx="104.9" cy="466" r="1.1" fill="#111"/><path d="M53.5,475.5 C55.5,475.2 58,476 60,477.3 M54,479.5 C56,479.5 58.5,480.3 60.5,481.5 M55.5,483.5 C57.5,483.5 59.5,484.3 61,485.5" stroke="#1A1A1A" stroke-width="1.9" fill="none" stroke-linecap="round"/><ellipse cx="252" cy="523" rx="27" ry="4.2" fill="#C3AC8B"/><path d="M228,500 L235,500 L234.5,522 L229,522.5 Z" fill="#F3B8A6"/><path d="M269,494 L277,494 L276.5,522 L270.5,522.5 Z" fill="#F3B8A6"/><path d="M216.5,494 L226,496 L225.5,524.5 L219,525 C217.5,515 216.5,505 216.5,494 Z" fill="#FDD1BB"/><path d="M260,498 L269.5,498 L269,525.5 L262,526 C261,516 260,507 260,498 Z" fill="#FDD1BB"/><path d="M219,479 C222,472 232,470 245,470 C256,469.5 266,470 272,474 C278,482 276,496 268,502 C258,505 240,505 228,503.5 C220,502 216,496 216,488 C216,484 217,481 219,479 Z" fill="#FDD1BB"/><path d="M216.5,489 C213,488 212.5,491.5 215,492.5" stroke="#F3B8A6" stroke-width="1.6" fill="none"/><path d="M256,464.5 C260,463.5 265,465 267,470 L262,474.5 C259.5,471.5 257.5,468 256,464.5 Z" fill="#F4B9A9"/><path d="M299.5,464.5 C295.5,463.5 290.5,465 288.5,470 L293.5,474.5 C296,471.5 298,468 299.5,464.5 Z" fill="#F4B9A9"/><ellipse cx="277.8" cy="481.8" rx="13.8" ry="14.2" fill="#FDD1BB"/><path d="M265,487 C268,494 276,497 286,494" stroke="#F3BBAA" stroke-width="0.9" fill="none"/><ellipse cx="277.6" cy="484" rx="5" ry="3.2" fill="#F7C2B0"/><circle cx="271.3" cy="476.6" r="1.5" fill="#111"/><circle cx="283.3" cy="476.2" r="1.5" fill="#111"/><circle cx="275.3" cy="482.9" r="1.4" fill="#111"/><circle cx="280" cy="482.9" r="1.4" fill="#111"/><ellipse cx="406" cy="529" rx="28" ry="3" fill="#C3AC8B"/><path d="M380,512 L386,512 L385.6,530.5 L380.5,530.5 Z" fill="#67615B"/><path d="M389,515 L395,513 L399.5,527.5 L394,529 Z" fill="#67615B"/><path d="M415,513 L421.3,513 L421.3,530.7 L415.5,530.7 Z" fill="#67615B"/><path d="M425,512 L430.6,512 L430.6,528.3 L425.5,528.3 Z" fill="#67615B"/><path d="M384,477 C392,473.5 404,474 414,474.5 C426,474 438,478 441,488 C443,497 441,507 436,512 C433,516 428,517 424,515.5 C420,517 414,517 410,515 C402,516 394,516 388,514.5 C382,516 378,512 378,506 C376,500 376,492 378,486 C379,482 381,479 384,477 Z" fill="#F3EFE8"/><path d="M384,494 C390,503 402,508 418,507 M395,483 C400,488 408,490 414,489" stroke="#E3DCD2" stroke-width="1.1" fill="none"/><path d="M417,466 C421,461.5 434,461 439,465 C442,469 442,478 439,484 C436,488 431,489 428,489 C424,489 419,487 417,483 C414,478 414,470 417,466 Z" fill="#F5F1EA"/><path d="M421.5,471 C423,467.5 433,467 435.5,471 C437,477 433,484.5 428,485.5 C423,484.5 420,477 421.5,471 Z" fill="#EDE3D6"/><ellipse cx="412.5" cy="466.5" rx="4.2" ry="2.4" fill="#DAC7AE" transform="rotate(-15 412.5 466.5)"/><circle cx="420.3" cy="474.6" r="1.7" fill="#111"/><circle cx="434.3" cy="474.2" r="1.7" fill="#111"/><path d="M426.3,482 L428.7,482 L427.5,483.8 Z" fill="#8F8078"/><ellipse cx="676" cy="535" rx="64" ry="5" fill="#C3AC8B"/><path d="M625,500 L627,529 L633,529 L634,500 Z" fill="#94673F"/><path d="M724,492 L725,527 L731,527 L732,488 Z" fill="#94673F"/><path d="M614,495 C616,510 617,525 617,537 L625,537 C626,525 628,512 632,500 Z" fill="#A8784B"/><path d="M710,485 C712,500 713,520 713,537 L723,537 C724,520 726,505 728,488 Z" fill="#A8784B"/><path d="M598,440 C606,437 616,437 624,438 C660,437 700,435 724,436 C730,437 733,442 734,452 C736,466 736,480 733,494 C730,498 722,500 712,501 C690,503 660,503 632,502 C624,504 616,502 612,500 C606,494 602,484 600,476 C598,466 596,452 598,440 Z" fill="#A8784B"/><path d="M729,439 C734,440 737,443 739,446" stroke="#A8784B" stroke-width="2.2" fill="none"/><path d="M606,438 C614,436 626,437 636,441 C640,446 637,452 633,456 C630,462 633,468 631,474 C629,480 626,484 622,485 C618,482 620,474 618,468 C614,460 608,456 606,450 C603,446 604,441 606,438 Z" fill="#E9EDEF"/><path d="M645,462 C650,461 654,466 655,472 C660,477 666,480 672,481 C684,482 698,480 707,481 C710,486 710,492 712,498 C713,503 711,507 708,507 C704,500 700,497 690,496 C680,498 674,502 670,509 C666,505 662,500 656,499 C648,499 640,497 633,496 C631,492 636,488 640,486 C642,479 641,468 645,462 Z" fill="#E9EDEF"/><path d="M668,450 C672,447 680,447 684,449 C686,453 682,457 677,458 C673,456 668,454 668,450 Z" fill="#E9EDEF"/><path d="M690,495 C693,491 702,491 705,496 C703,500 695,501 690,499 Z" fill="#F2C4BA"/><path d="M694,500 L694,504 M698,500 L698,504 M702,500 L702,503" stroke="#F2C4BA" stroke-width="1"/><path d="M574,441 C580,436 594,435 602,438 C607,444 609,452 607,459 C604,466 598,472 590,474 C584,475 578,474 573,472 C569,470 568,466 572,461 C575,455 574,448 574,441 Z" fill="#A8784B"/><path d="M561,438 C567,437 573,440 577,446 L574,449 C567,447 563,443 561,438 Z" fill="#94673F"/><path d="M594,437 C599,435 604,437 606,441 C604,446 600,449 597,448 C595,445 594,441 594,437 Z" fill="#94673F"/><path d="M575,441 C580,436 590,435 596,437 C592,441 588,442 585,445 C581,448 580,453 578,459 C576,453 575,447 575,441 Z" fill="#E9EDEF"/><circle cx="588" cy="450.5" r="2.6" fill="#E3D2C2"/><circle cx="588" cy="450.5" r="1.6" fill="#1A1A1A"/><ellipse cx="575" cy="469" rx="5.5" ry="4" fill="#C9ACA6"/><ellipse cx="573" cy="469.5" rx="1.8" ry="1.6" fill="#222"/><ellipse cx="71.6" cy="562" rx="41.5" ry="11.5" fill="#C3AC8B" opacity="0.8"/><ellipse cx="69.6" cy="556" rx="38.5" ry="9.5" fill="#A9BDC5"/><ellipse cx="69.6" cy="555.2" rx="37.0" ry="8.0" fill="#DCE7EA"/><ellipse cx="69.6" cy="556" rx="31.5" ry="5.7" fill="#C3D3D9"/><path d="M47,552 C46,544 52,537 62,535 C72,533 82,536 88,541 C91,545 93,551 94,556 C86,560 60,561 50,559 C47,557 47,555 47,552 Z" fill="#F8EBDD"/><path d="M81,546 C85,540 91,535 94.5,533 C95.5,530.5 99,529.5 100.3,531.5 C101.3,533.5 99.5,536 97.5,537 C94,541 91,546 88,550 Z" fill="#F6E6D5"/><path d="M58,540 C56,546 57,552 62,556 M66,546 C72,550 80,551 86,548 M52,556 C62,558 76,558 90,556" stroke="#EAD3BE" stroke-width="1.1" fill="none"/><ellipse cx="225" cy="562.5" rx="41.5" ry="12" fill="#C3AC8B" opacity="0.8"/><ellipse cx="223" cy="556.5" rx="38.5" ry="10" fill="#A9BDC5"/><ellipse cx="223" cy="555.7" rx="37.0" ry="8.5" fill="#DCE7EA"/><ellipse cx="223" cy="556.5" rx="31.5" ry="6.2" fill="#C3D3D9"/><path d="M199.5,549 C199,543 204,539.5 212,539 L236,538.5 C240,538.5 244,541 243.5,546 L241,552 C238,557 232,561 225,562 L206,560 C201,559 199.5,555 199.5,549 Z" fill="#F6E2DA"/><path d="M201.5,549 C201.5,544 205,541 212,541 L235,540.5 C239,540.5 241.5,542.5 241,546 L239,551.5 C236,556 231,559.5 225,560 L207,558.5 C203,557.5 201.5,554.5 201.5,549 Z" fill="#D5645A"/><path d="M203,548 C203,544 207,542 213,542 L234,541.5 C238,541.5 240,543 239,545 L236,546.5 C231,550 227,552.5 224.8,553.5 L204,550 Z" fill="#DD7768"/><path d="M203.5,550.2 L224.8,554.3 C229,551 233,548 237.5,545 M211,546 C215,548.5 221,549.5 226.5,548.5 M224.8,554.3 L224.3,561" stroke="#F8E6DE" stroke-width="1.1" fill="none" stroke-linecap="round"/><ellipse cx="382" cy="563" rx="42" ry="11.5" fill="#C3AC8B" opacity="0.8"/><ellipse cx="380" cy="557" rx="39" ry="9.5" fill="#A9BDC5"/><ellipse cx="380" cy="556.2" rx="37.5" ry="8.0" fill="#DCE7EA"/><ellipse cx="380" cy="557" rx="32" ry="5.7" fill="#C3D3D9"/><path d="M384,545.5 L406.5,538.5 M392,552.5 L414.5,547.5" stroke="#F2C7AF" stroke-width="2.6" stroke-linecap="round"/><circle cx="407.5" cy="538" r="1.9" fill="#F2C7AF"/><circle cx="415.5" cy="547" r="1.9" fill="#F2C7AF"/><path d="M355.5,546.5 C357,542.5 366,541 377,542 L389,545 C385,549.5 378,553 371,555.5 C364,557.5 358,556.5 356.3,553 C355,551 355,548.5 355.5,546.5 Z" fill="#DF3E4A" stroke="#F8D9D8" stroke-width="1.1"/><path d="M364,553.5 C365.5,549.5 375,548 386,549 L397.5,552 C393.5,556.5 387,560.5 380,563 C373,565 367,564.5 365,561.5 C363.5,559 363.5,555.5 364,553.5 Z" fill="#DF3E4A" stroke="#F8D9D8" stroke-width="1.1"/><ellipse cx="544.4" cy="563" rx="41.6" ry="11" fill="#C3AC8B" opacity="0.8"/><ellipse cx="542.4" cy="557" rx="38.6" ry="9" fill="#A9BDC5"/><ellipse cx="542.4" cy="556.2" rx="37.1" ry="7.5" fill="#DCE7EA"/><ellipse cx="542.4" cy="557" rx="31.6" ry="5.2" fill="#C3D3D9"/><path d="M512.5,545 C513,552 516,557 522,559.5 C532,562.5 550,562.5 560,560 C566,558 569.5,553.5 570,548 C566,552 556,553.5 546,553.5 C534,553.5 520,551.5 512.5,545 Z" fill="#AE343D"/><path d="M514,551 C524,556 546,557.5 568,553" stroke="#E58C8C" stroke-width="1" fill="none" opacity="0.8"/><path d="M512.5,545 C512,539 520,535 532,535.5 C540,536 546,538 552,540 C560,542 568,545 570,548 C566,552 556,553.5 546,553.5 C534,553.5 520,551.5 512.5,545 Z" fill="#F1A7A2"/><path d="M516,542 C517,538 524,536.5 532,537 C538,537.5 541,540 540,543 C538,546 530,547.5 523,547 C518,546.5 516,544.5 516,542 Z" fill="#A8303A"/><path d="M543,539.5 C550,540.5 558,543 564.5,546.5 C558,547.5 550,546 543.5,543.5 C542,542 542,540.5 543,539.5 Z" fill="#A8303A"/><path d="M535,549.5 C542,547.5 552,547.5 561,549.5 C556,551.5 545,552 535,549.5 Z" fill="#A8303A"/><path d="M596.9,553.1 L601.7,553.1 L611.5,572 L607,577.5 L636.5,579.5" stroke="#223F86" stroke-width="1.9" fill="none" stroke-linejoin="round" stroke-linecap="round"/><circle cx="603.5" cy="582.3" r="2.4" fill="#BFD3E8" stroke="#223F86" stroke-width="1.8"/><circle cx="634.9" cy="582.3" r="2.4" fill="#BFD3E8" stroke="#223F86" stroke-width="1.8"/><path d="M662,551.9 L723.1,551.9 L723.1,568.5 L650.4,568.5 C650.4,560 654,551.9 662,551.9 Z" fill="#1D4190"/><path d="M650.4,568.5 L723.1,568.5 C723.1,577 719,585.2 710,585.2 L650.4,585.2 Z" fill="#66B33A"/><g stroke="#EEF5D6" stroke-width="0.9" fill="none"><ellipse cx="688.2" cy="578" rx="6.3" ry="5.8"/><ellipse cx="688.2" cy="578" rx="2.6" ry="5.8"/><path d="M682.2,575.5 L694.2,575.5 M682.2,580.5 L694.2,580.5"/><path d="M674,578.3 L702,577.7" stroke-width="1.1"/></g></svg>
<svg width="739" height="600" viewBox="0 0 739 600" style="position:absolute;left:0;top:0">
<g font-family="'Liberation Sans', sans-serif" font-weight="bold" fill="#141414" stroke="#141414" stroke-width="1.1" stroke-linejoin="round">
<text x="113" y="54.6" font-size="40.5" textLength="161" lengthAdjust="spacingAndGlyphs">WIEVIEL</text>
<text x="287" y="54.6" font-size="40.5" textLength="140.5" lengthAdjust="spacingAndGlyphs">FUTTER</text>
<text x="445.5" y="54.6" font-size="40.5" textLength="182" lengthAdjust="spacingAndGlyphs">BRAUCHT</text>
<text x="213.5" y="93.6" font-size="40.5" textLength="68" lengthAdjust="spacingAndGlyphs">EIN</text>
<text x="294.5" y="93.6" font-size="40.5" textLength="234" lengthAdjust="spacingAndGlyphs">SCHNITZEL?</text>
</g>
<g font-family="'Liberation Sans', sans-serif" fill="#2A2826" font-size="17.5">
<text x="63" y="130" textLength="243.5" lengthAdjust="spacingAndGlyphs">Österreichs Nutztiere fressen</text>
<text x="309.5" y="130" textLength="191" lengthAdjust="spacingAndGlyphs">jährlich 7 Mio. Tonnen</text>
<text x="53" y="154" textLength="191.5" lengthAdjust="spacingAndGlyphs">Kraftfutter, davon sind</text>
<text x="250" y="154" textLength="260.5" lengthAdjust="spacingAndGlyphs">600.000 Tonnen überwiegend</text>
<text x="49" y="177" textLength="210.5" lengthAdjust="spacingAndGlyphs">aus dem globalen Süden</text>
<text x="265" y="177" textLength="251" lengthAdjust="spacingAndGlyphs">importiertes Gentechnik-Soja.</text>
</g>
<g font-family="'Liberation Sans', sans-serif" font-weight="bold" fill="#1E1C1A" font-size="13.2" stroke="#1E1C1A" stroke-width="0.3">
<text x="63" y="239.3" textLength="23" lengthAdjust="spacingAndGlyphs">Um</text>
<text x="91" y="239.3" font-size="18.5" fill="#E8622A" stroke="none" textLength="108.5" lengthAdjust="spacingAndGlyphs">1 kg Fleisch</text>
<text x="202" y="239.3" textLength="17" lengthAdjust="spacingAndGlyphs">zu</text>
<text x="63" y="257.2" textLength="143" lengthAdjust="spacingAndGlyphs">produzieren, braucht</text>
<text x="63" y="276" textLength="124" lengthAdjust="spacingAndGlyphs">man soviel Futter:</text>
</g>
<g font-family="'Liberation Sans', sans-serif" font-weight="bold" fill="#141414" stroke="#141414" stroke-width="0.6">
<text x="106" y="324.8" font-size="25.5" textLength="41.5" lengthAdjust="spacingAndGlyphs">3,3</text>
<text x="152" y="324.8" font-size="18" stroke-width="0.9" textLength="21.6" lengthAdjust="spacingAndGlyphs">kg</text>
<text x="263.5" y="300" font-size="25.5" textLength="41.5" lengthAdjust="spacingAndGlyphs">6,4</text>
<text x="310.4" y="300" font-size="18" stroke-width="0.9" textLength="21.6" lengthAdjust="spacingAndGlyphs">kg</text>
<text x="421.3" y="235.9" font-size="25.5" textLength="56.5" lengthAdjust="spacingAndGlyphs">15,0</text>
<text x="479.4" y="235.9" font-size="18" stroke-width="0.9" textLength="21.3" lengthAdjust="spacingAndGlyphs">kg</text>
<text x="578.2" y="164.1" font-size="25.5" textLength="59.5" lengthAdjust="spacingAndGlyphs">25,0</text>
<text x="641.7" y="164.1" font-size="18" stroke-width="0.9" textLength="21.7" lengthAdjust="spacingAndGlyphs">kg</text>
</g>
<g font-family="'Liberation Sans', sans-serif" font-weight="bold" font-style="italic" fill="#223F86" stroke="#223F86" stroke-width="0.3">
<text x="615.5" y="564.8" font-size="7.6" textLength="28" lengthAdjust="spacingAndGlyphs">SUPPLY</text>
<text x="615" y="571.4" font-size="7.6" textLength="27.5" lengthAdjust="spacingAndGlyphs">CHA<tspan fill="#E0302E" stroke="#E0302E">I</tspan>NGE</text>
</g>
<rect x="615.5" y="572.3" width="24" height="1.1" fill="#223F86" opacity="0.55"/>
<text x="658.8" y="563.6" font-family="'Liberation Sans', sans-serif" font-weight="bold" font-size="7.1" fill="#F6F6F6" stroke="#F6F6F6" stroke-width="0.35" textLength="61" lengthAdjust="spacingAndGlyphs">GLOBAL 2000</text>
</svg>
</div></body></html>
